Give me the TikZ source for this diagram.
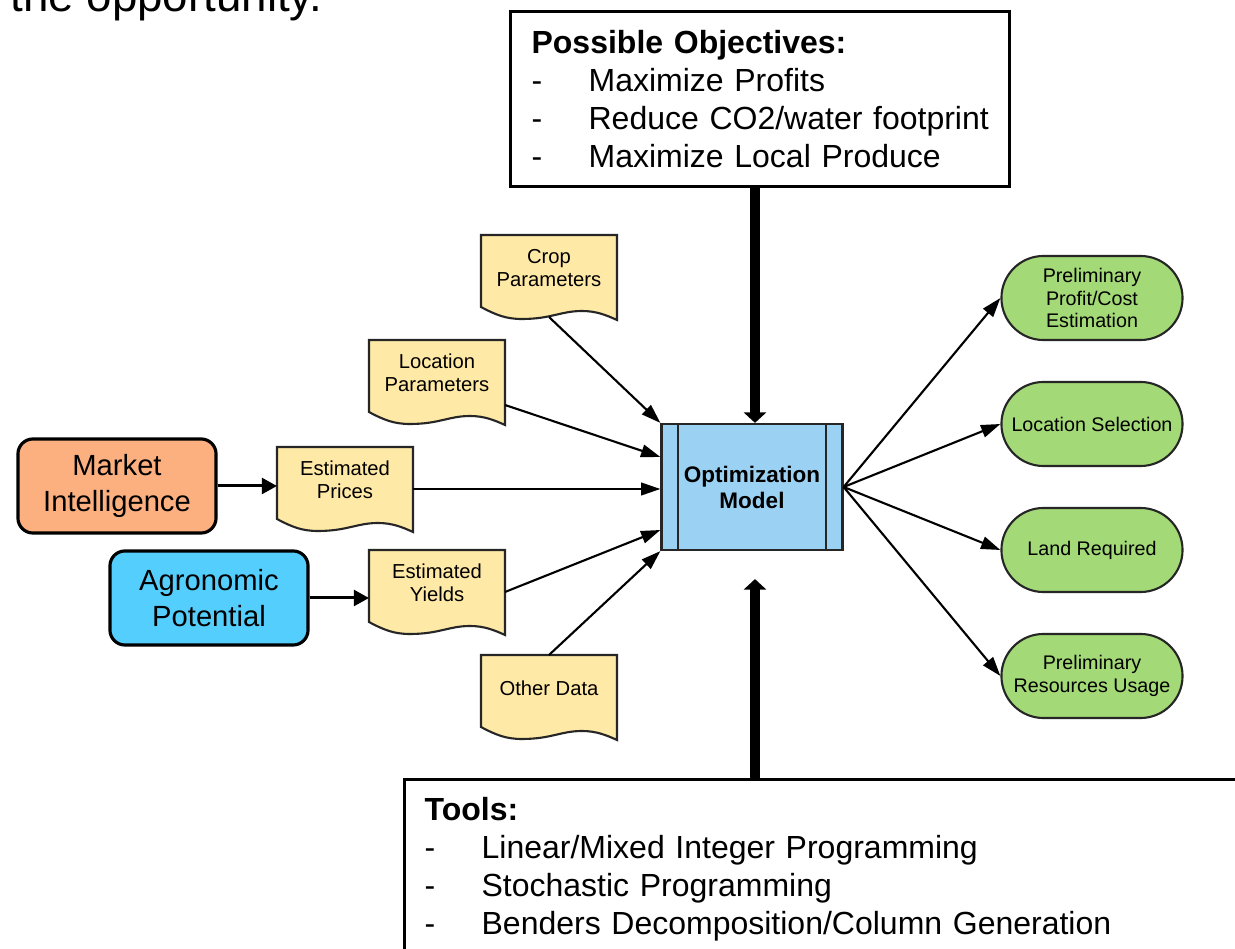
\documentclass[tikz,border=0pt]{standalone}
\usepackage{fontspec}
\setmainfont{Liberation Sans}
\usetikzlibrary{arrows.meta,calc}
\definecolor{mktorange}{RGB}{252,176,128}
\definecolor{agrcyan}{RGB}{84,206,252}
\definecolor{docyellow}{RGB}{255,233,166}
\definecolor{optblue}{RGB}{155,209,242}
\definecolor{outgreen}{RGB}{163,217,119}
\newcommand\dashitem{\makebox[0.57cm][l]{-}}
\begin{document}
\begin{tikzpicture}[x=0.01cm,y=-0.01cm,
 docline/.style={draw=black!85,line width=0.6pt,fill=docyellow},
 doctext/.style={align=center,font=\fontsize{5.75}{6.5}\selectfont},
 doc/.pic={
  \draw[docline] (0,0) -- (0,72) .. controls (15,80) and (25,84) .. (41,84)
   .. controls (70,84) and (80,76) .. (101,76) .. controls (115,76) and (125,80) .. (136,85) -- (136,0) -- cycle;
  \node[doctext] (-t) at (68,33) {#1};
  \coordinate (-n) at (68,0);
  \coordinate (-e) at (136,42);
  \coordinate (-w) at (0,42);
  \coordinate (-b) at (68,82);
 },
 srcbox/.style={draw,line width=0.9pt,rounded corners=0.15cm,minimum width=1.98cm,minimum height=0.94cm,
  align=center,font=\fontsize{8.3}{10.2}\selectfont},
 outbox/.style={draw=black!85,line width=0.6pt,fill=outgreen,rounded corners=0.42cm,minimum width=1.81cm,
  minimum height=0.84cm,inner xsep=1pt,align=center,font=\fontsize{5.6}{6.5}\selectfont},
 infobox/.style={draw,line width=0.9pt,fill=white,align=left,font=\fontsize{9.1}{10.8}\selectfont},
 arr/.style={line width=0.6pt,-{Triangle[length=5.5pt,width=3.6pt]}},
 srcarr/.style={line width=0.85pt,-{Triangle[length=4.3pt,width=4.5pt]}},
 bigarr/.style={line width=2.85pt,-{Triangle[length=3pt,width=6.3pt]}}]
\useasboundingbox (0,0) rectangle (1235,949);
\clip (0,0) rectangle (1235,949);
\node[anchor=base west,font=\fontsize{13}{15}\selectfont] (intro) at (-2,12) {the opportunity.};

\node[infobox,anchor=north west,text width=4.57cm,inner xsep=0.21cm,minimum height=1.75cm] (obj) at (509,10)
 {\textbf{Possible Objectives:}\\ \dashitem Maximize Profits\\ \dashitem Reduce CO2/water footprint\\ \dashitem Maximize Local Produce};

\node[draw=black!85,line width=0.6pt,fill=optblue,minimum width=1.81cm,minimum height=1.26cm,align=center,
 font=\fontsize{6.4}{7.4}\selectfont\bfseries] (opt) at (752,487) {Optimization\\Model};
\draw[line width=0.6pt,black!85] ([xshift=0.18cm]opt.north west) -- ([xshift=0.18cm]opt.south west);
\draw[line width=0.6pt,black!85] ([xshift=-0.18cm]opt.north east) -- ([xshift=-0.18cm]opt.south east);

\node[srcbox,fill=mktorange] (mkt) at (117,486) {Market\\Intelligence};
\node[srcbox,fill=agrcyan] (agr) at (209,598) {Agronomic\\Potential};

\pic (crop) at (481,235) {doc={Crop\\Parameters}};
\pic (loc) at (369,340) {doc={Location\\Parameters}};
\pic (prc) at (277,447) {doc={Estimated\\Prices}};
\pic (yld) at (369,550) {doc={Estimated\\Yields}};
\pic (oth) at (481,655) {doc={}};
\node[doctext] (othtext) at (549,688) {Other Data};

\node[outbox] (prof) at (1092,298) {Preliminary\\Profit/Cost\\Estimation};
\node[outbox] (locsel) at (1092,424) {Location Selection};
\node[outbox] (land) at (1092,550) {Land Required};
\node[outbox] (res) at (1092,676) {Preliminary\\Resources Usage};

\node[infobox,anchor=north west,text width=8.17cm,inner xsep=0.2cm,inner ysep=0.18cm] (tools) at (403,778)
 {\textbf{Tools:}\\ \dashitem Linear/Mixed Integer Programming\\ \dashitem Stochastic Programming\\
  \dashitem Benders Decomposition/Column Generation\\ \strut};

\draw[srcarr] (mkt.east) -- (mkt.east -| prc-w);
\draw[srcarr] (agr.east) -- (agr.east -| yld-w);

\draw[arr] (crop-b) -- (opt.north west);
\draw[arr] ($(loc-e)+(0,23)$) -- ($(opt.west)+(0,-30)$);
\draw[arr] (prc-e) -- (prc-e -| opt.west);
\draw[arr] (yld-e) -- ($(opt.west)+(0,43)$);
\draw[arr] (oth-n) -- (opt.south west);

\foreach \o in {prof,locsel,land,res}
 \draw[arr] (opt.east) -- (\o.west);

\coordinate (objout) at (obj.south -| 755,0);
\draw[bigarr] (objout) -- (objout |- opt.north);
\coordinate (toolin) at ($(opt.south)+(3,28)$);
\draw[bigarr] (toolin |- tools.north) -- (toolin);
\end{tikzpicture}
\end{document}
